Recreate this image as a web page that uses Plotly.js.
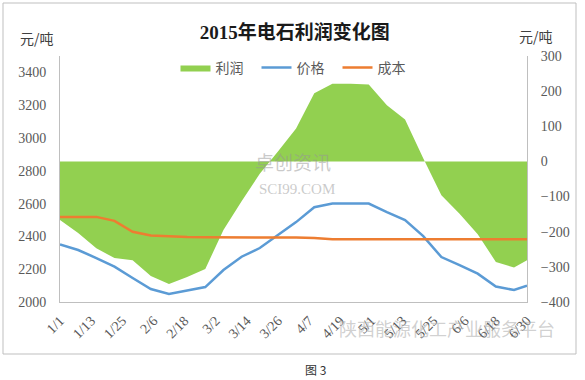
<!DOCTYPE html>
<html>
<head>
<meta charset="utf-8">
<script src="https://cdn.plot.ly/plotly-3.0.1.min.js"></script>
<style>html,body{margin:0;padding:0;background:#fff;}#chart{width:585px;height:380px;}</style>
</head>
<body>
<div id="chart"></div>
<script>
// Dates of the weekly observations (2015)
var dates = ['2015-01-01','2015-01-08','2015-01-15','2015-01-22','2015-01-29','2015-02-05','2015-02-12',
  '2015-02-19','2015-02-26','2015-03-05','2015-03-12','2015-03-19','2015-03-26','2015-04-02','2015-04-09',
  '2015-04-16','2015-04-23','2015-04-30','2015-05-07','2015-05-14','2015-05-21','2015-05-28','2015-06-04',
  '2015-06-11','2015-06-18','2015-06-25','2015-06-30'];
// 价格 (元/吨, left axis)
var price = [2351,2317,2268,2216,2146,2079,2049,2070,2091,2195,2276,2329,2408,2487,2578,2600,2601,2600,
  2548,2499,2402,2274,2225,2173,2094,2073,2100];
// 成本 (元/吨, left axis)
var cost = [2519,2519,2519,2495,2428,2405,2399,2396,2395,2395,2395,2395,2395,2393,2390,2383,2382,2382,
  2382,2382,2382,2382,2382,2382,2382,2382,2382];
// 利润 (元/吨, right axis)
var profit = [-167,-204,-247,-275,-281,-326,-349,-329,-306,-195,-113,-35,28,94,194,221,221,219,160,119,
  9,-96,-149,-207,-286,-302,-281];
var leftTicks = [2000,2200,2400,2600,2800,3000,3200,3400];
var seriesNames = ['利润','价格','成本'];

var tickFont = {family:'Liberation Serif, Noto Sans CJK SC, serif', size:14, color:'#595959'};

var traces = [
  {x:dates, y:profit, name:seriesNames[0], type:'scatter', mode:'lines', fill:'tozeroy',
   fillcolor:'#92D050', line:{width:0, color:'#92D050'}, yaxis:'y', hoverinfo:'skip'},
  {x:dates, y:price, name:seriesNames[1], type:'scatter', mode:'lines',
   line:{color:'#5B9BD5', width:2.5}, yaxis:'y2'},
  {x:dates, y:cost, name:seriesNames[2], type:'scatter', mode:'lines',
   line:{color:'#ED7D31', width:2.5}, yaxis:'y2'}
];

function px(x){return (x-60)/467;}
function py(y){return (302-y)/246;}

var layout = {
  width:585, height:380,
  margin:{l:60, r:58, t:56, b:78, pad:0},
  paper_bgcolor:'#fff', plot_bgcolor:'#fff',
  showlegend:true,
  title:{text:'2015年电石利润变化图', font:{family:'Liberation Serif, Noto Sans CJK SC, serif', size:19, color:'#1a1a1a', weight:'bold'},
    x:0.504, xref:'container', xanchor:'center', y:1-32/380, yref:'container', yanchor:'middle'},
  legend:{orientation:'h', x:px(297), xanchor:'center', y:py(68), yanchor:'middle',
    font:{family:'Noto Sans CJK SC, sans-serif', size:14, color:'#595959'},
    bgcolor:'rgba(0,0,0,0)', entrywidth:36, entrywidthmode:'pixels', traceorder:'normal'},
  xaxis:{type:'date', range:['2015-01-01','2015-06-30'], tick0:'2015-01-01', dtick:12*86400000,
    tickformat:'%-m/%-d', tickangle:-45, showline:true, linecolor:'#bfbfbf', linewidth:1,
    showgrid:false, zeroline:false, ticks:'', tickfont:tickFont, ticklabelstandoff:4, fixedrange:true},
  yaxis:{side:'right', range:[-400,300], tick0:0, dtick:100, showline:true, linecolor:'#bfbfbf', linewidth:1,
    showgrid:false, zeroline:false, ticks:'', tickfont:tickFont, ticklabelstandoff:10, fixedrange:true},
  yaxis2:{side:'left', overlaying:'y', range:[2000,3500], tickvals:leftTicks, showline:true, linecolor:'#bfbfbf',
    linewidth:1, showgrid:false, zeroline:false, ticks:'', tickfont:tickFont, ticklabelstandoff:10, fixedrange:true},
  shapes:[
    {type:'rect', xref:'paper', yref:'paper', x0:px(3), x1:px(576), y0:py(354), y1:py(3),
     line:{color:'#bfbfbf', width:1}, layer:'below'}
  ],
  annotations:[
    {text:'元/吨', xref:'paper', yref:'paper', x:px(37), y:py(38), xanchor:'center', yanchor:'middle', showarrow:false,
     font:{family:'Noto Sans CJK SC, sans-serif', size:14, color:'#404040'}},
    {text:'元/吨', xref:'paper', yref:'paper', x:px(536), y:py(36), xanchor:'center', yanchor:'middle', showarrow:false,
     font:{family:'Noto Sans CJK SC, sans-serif', size:14, color:'#404040'}},
    {text:'卓创资讯', xref:'paper', yref:'paper', x:px(293), y:py(161), xanchor:'center', yanchor:'middle', showarrow:false,
     font:{family:'Noto Sans CJK SC, sans-serif', size:19, color:'rgba(150,150,150,0.5)'}},
    {text:'SCI99.COM', xref:'paper', yref:'paper', x:px(297), y:py(189), xanchor:'center', yanchor:'middle', showarrow:false,
     font:{family:'Liberation Serif, serif', size:15, color:'rgba(150,150,150,0.5)'}},
    {text:'陕西能源化工产业服务平台', xref:'paper', yref:'paper', x:px(447), y:py(328), xanchor:'center', yanchor:'middle', showarrow:false,
     font:{family:'Noto Sans CJK SC, sans-serif', size:18, color:'rgba(170,170,170,0.55)'}},
    {text:'图 3', xref:'paper', yref:'paper', x:px(303), y:py(369), xanchor:'left', yanchor:'middle', showarrow:false,
     font:{family:'Noto Sans CJK SC, sans-serif', size:12, color:'#333'}}
  ]
};

Plotly.newPlot('chart', traces, layout, {displayModeBar:false, staticPlot:true});
</script>
</body>
</html>
